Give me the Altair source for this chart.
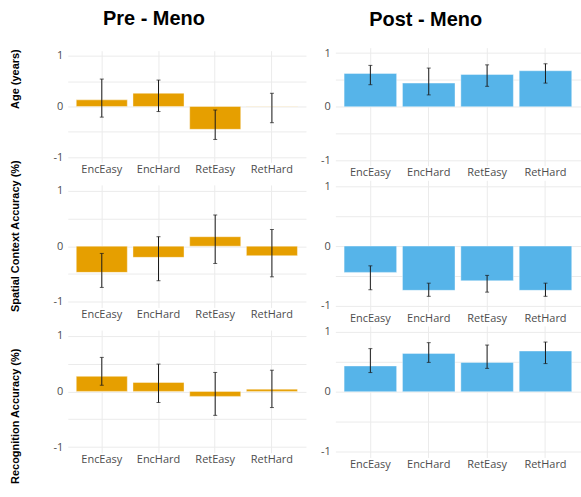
import altair as alt
import pandas as pd

conditions = ["EncEasy", "EncHard", "RetEasy", "RetHard"]

# Pre-menopause group: mean effect and interval bounds per condition
pre_age = [0.13, 0.26, -0.45, -0.005]
pre_age_lo = [-0.21, -0.10, -0.65, -0.32]
pre_age_hi = [0.54, 0.52, -0.07, 0.26]

pre_spatial = [-0.47, -0.20, 0.17, -0.17]
pre_spatial_lo = [-0.74, -0.62, -0.31, -0.55]
pre_spatial_hi = [-0.13, 0.17, 0.56, 0.30]

pre_recog = [0.27, 0.16, -0.09, 0.04]
pre_recog_lo = [0.11, -0.20, -0.43, -0.29]
pre_recog_hi = [0.61, 0.49, 0.34, 0.38]

# Post-menopause group
post_age = [0.62, 0.44, 0.60, 0.67]
post_age_lo = [0.41, 0.22, 0.38, 0.44]
post_age_hi = [0.77, 0.72, 0.78, 0.80]

post_spatial = [-0.44, -0.74, -0.58, -0.74]
post_spatial_lo = [-0.73, -0.84, -0.77, -0.84]
post_spatial_hi = [-0.33, -0.62, -0.49, -0.62]

post_recog = [0.43, 0.64, 0.49, 0.68]
post_recog_lo = [0.32, 0.49, 0.39, 0.47]
post_recog_hi = [0.72, 0.82, 0.78, 0.83]

row_titles = ["Age (years)", "Spatial Context Accuracy (%)", "Recognition Accuracy (%)"]
col_titles = ["Pre - Meno", "Post - Meno"]

PRE_COLOR = "#E69F00"
POST_COLOR = "#56B4E9"
ERR_COLOR = "#1a1a1a"

LABEL_EXPR = ("datum.value == 1 ? '1' : datum.value == 0 ? '0' : "
              "datum.value == -1 ? '-1' : ''")


def panel(mean, lo, hi, color, w, h, row_title=None, title_y=0,
          col_title=None, title_dx=0, title_offset=10):
    df = pd.DataFrame({"condition": conditions, "mean": mean, "lo": lo, "hi": hi})

    x = alt.X(
        "condition:N", sort=conditions,
        scale=alt.Scale(paddingInner=0.1, paddingOuter=0.15),
        axis=alt.Axis(title=None, labelAngle=0, grid=True, bandPosition=0.5,
                      labelPadding=1),
    )
    yscale = alt.Scale(domain=[-1.1, 1.1], nice=False, zero=False)
    axis_kw = dict(values=[-1, -0.5, 0, 0.5, 1], labelExpr=LABEL_EXPR,
                   labelPadding=5)
    if row_title:
        yaxis = alt.Axis(title=row_title, titleFont="Liberation Sans",
                         titleFontWeight="bold", titleFontSize=11,
                         titleColor="#000000", titleAngle=-90,
                         titleAlign="center", titleBaseline="middle",
                         titleX=-52, titleY=title_y, **axis_kw)
    else:
        yaxis = alt.Axis(title=None, **axis_kw)

    base = alt.Chart(df)
    bars = base.mark_bar(color=color, stroke="white", strokeWidth=0.4).encode(
        x=x, y=alt.Y("mean:Q", scale=yscale, axis=yaxis), y2=alt.datum(0)
    )
    rules = base.mark_rule(color=ERR_COLOR, strokeWidth=1).encode(
        x=x, y=alt.Y("lo:Q", scale=yscale, axis=yaxis), y2="hi:Q"
    )
    cap_lo = base.mark_tick(color=ERR_COLOR, size=4, thickness=1,
                            orient="horizontal").encode(
        x=x, y=alt.Y("lo:Q", scale=yscale, axis=yaxis)
    )
    cap_hi = base.mark_tick(color=ERR_COLOR, size=4, thickness=1,
                            orient="horizontal").encode(
        x=x, y=alt.Y("hi:Q", scale=yscale, axis=yaxis)
    )
    props = dict(width=w, height=h)
    if col_title:
        props["title"] = alt.TitleParams(
            col_title, font="Liberation Sans", fontSize=20, fontWeight="bold",
            color="#000000", anchor="middle", frame="bounds", dx=title_dx,
            offset=title_offset,
        )
    return alt.layer(bars, rules, cap_lo, cap_hi).properties(**props)


# thin invisible strip that sets the left column a few pixels lower
spacer = (
    alt.Chart(pd.DataFrame({"v": [0]}))
    .mark_point(opacity=0)
    .encode(x=alt.value(0), y=alt.value(0))
    .properties(width=239, height=1)
)

left_panels = alt.vconcat(
    panel(pre_age, pre_age_lo, pre_age_hi, PRE_COLOR, 239, 112,
          row_titles[0], 28, col_titles[0], -4, 20),
    panel(pre_spatial, pre_spatial_lo, pre_spatial_hi, PRE_COLOR, 239, 123,
          row_titles[1], 51),
    panel(pre_recog, pre_recog_lo, pre_recog_hi, PRE_COLOR, 239, 123,
          row_titles[2], 86),
    spacing=22.7, bounds="flush",
)
left = alt.vconcat(spacer, left_panels, spacing=2, bounds="flush")

right = alt.vconcat(
    panel(post_age, post_age_lo, post_age_hi, POST_COLOR, 246, 118.5,
          None, 0, col_titles[1], -25, 17),
    panel(post_spatial, post_spatial_lo, post_spatial_hi, POST_COLOR, 246, 132),
    panel(post_recog, post_recog_lo, post_recog_hi, POST_COLOR, 246, 132),
    spacing=14.1, bounds="flush",
)

chart = (
    alt.hconcat(left, right, spacing=14.5)
    .properties(padding={"left": 9, "top": 8, "right": 0, "bottom": 0})
    .configure_axis(domain=False, ticks=False, tickSize=0, gridColor="#EBEBEB",
                    gridWidth=1, labelColor="#4D4D4D", labelFont="Open Sans",
                    labelFontSize=11)
    .configure_view(stroke=None)
)

chart.save("out.html", embed_options={"renderer": "svg", "actions": False})
